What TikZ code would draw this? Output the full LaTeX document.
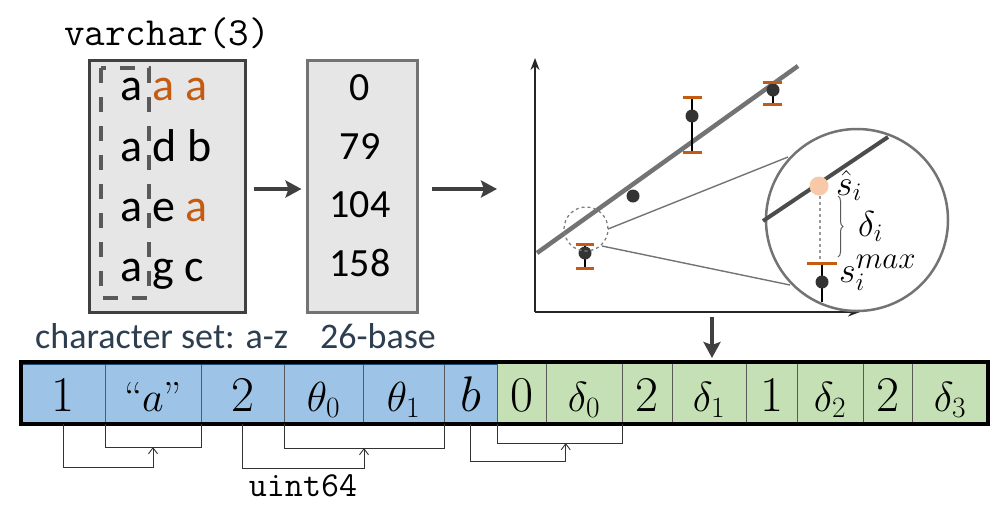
\documentclass[tikz,border=0pt]{standalone}
\usepackage{fontspec}
\newfontfamily\calfont{Carlito}
\DeclareFontShape{OT1}{cmr}{m}{n}{<-8.5>cmr8<8.5-9.5>cmr9<9.5-11>cmr10<11-15>cmr12<15->cmr17}{}
\DeclareFontShape{OML}{cmm}{m}{it}{<-6>cmmi5<6-7>cmmi6<7-8>cmmi7<8-9>cmmi8<9-10>cmmi9<10-12>cmmi10<12->cmmi12}{}
\DeclareFontShape{OMS}{cmsy}{m}{n}{<-6>cmsy5<6-7>cmsy6<7-8>cmsy7<8-9>cmsy8<9-10>cmsy9<10->cmsy10}{}
\usetikzlibrary{arrows.meta,decorations.pathreplacing,calc}
\definecolor{boxfill}{HTML}{E6E6E6}
\definecolor{orng}{HTML}{C55A11}
\definecolor{lorng}{HTML}{F7C9A9}
\definecolor{bluec}{HTML}{9DC3E6}
\definecolor{greenc}{HTML}{C5E0B4}
\definecolor{slate}{HTML}{2C3E50}
\definecolor{dblue}{HTML}{1F4E79}
\begin{document}
\begin{tikzpicture}[x=1pt,y=-1pt,
  cell/.style={draw=black!65,line width=0.8pt,inner sep=0pt,outer sep=0pt,minimum height=62pt,
    text height=36pt,text depth=0pt,anchor=west,font=\fontsize{50}{55}\selectfont},
  smf/.style={font=\fontsize{42}{46}\selectfont},
  bcell/.style={cell,fill=bluec},
  gcell/.style={cell,fill=greenc},
  rowtxt/.style={anchor=base west,inner sep=0pt,font=\calfont\fontsize{46}{50}\selectfont},
  numtxt/.style={anchor=base,inner sep=0pt,font=\calfont\fontsize{40}{44}\selectfont},
  lbl/.style={anchor=base west,inner sep=0pt,text=slate,font=\calfont\fontsize{36}{40}\selectfont},
  bigarrow/.style={draw=black!75,line width=4pt,-{Stealth[length=16pt,width=17pt,inset=3pt]}},
  brk/.style={draw=black!80,line width=0.9pt},
  brka/.style={brk,-{Straight Barb[length=6pt,width=9pt]}},
  dot/.style={circle,fill=black!80,inner sep=0pt,minimum size=13pt},
  ebar/.style={draw=black,line width=1.6pt},
  ecap/.style={draw=orng,line width=3pt},
  mathlbl/.style={anchor=base west,inner sep=0pt,font=\fontsize{36}{40}\selectfont}
]
\useasboundingbox (0,0) rectangle (999,507);

% ---------- top-left boxes ----------
\node[anchor=base,inner sep=0pt,font=\ttfamily\fontsize{40}{44}\selectfont] (vc) at (167,45) {varchar(3)};
\node[draw=black!75,line width=3pt,fill=boxfill,minimum width=156pt,minimum height=252pt,inner sep=0pt] (box1) at (167,186) {};
\draw[black!65,line width=4pt,dash pattern=on 15pt off 14pt] (101,68) rectangle (149,298);
\node[rowtxt] (r1) at (120,100) {a \textcolor{orng}{a a}};
\node[rowtxt] (r2) at (120,161) {a d b};
\node[rowtxt] (r3) at (120,221) {a e \textcolor{orng}{a}};
\node[rowtxt] (r4) at (120,281) {a g c};

\node[draw=black!55,line width=3pt,fill=boxfill,minimum width=110pt,minimum height=252pt,inner sep=0pt] (box2) at (362,186) {};
\node[numtxt] (n1) at (360,100) {0};
\node[numtxt] (n2) at (360,159) {79};
\node[numtxt] (n3) at (360,217) {104};
\node[numtxt] (n4) at (360,276) {158};

\node[lbl] (cs) at (35,348) {character set: a-z};
\node[lbl] (base) at (320,348) {26-base};

\coordinate (plotin) at (497,189);
\draw[bigarrow] ([shift={(7,3)}]box1.east) -- ([shift={(-4,3)}]box2.west);
\draw[bigarrow] ([shift={(13,3)}]box2.east) -- (plotin);

% ---------- plot ----------
\coordinate (org) at (535,312);
\coordinate (ytop) at (535,58);
\coordinate (xend) at (860,312);
\draw[black!85,line width=1.5pt,-{Stealth[length=12pt,width=9pt]}] (org) -- (ytop);
\draw[black!85,line width=1.5pt,-{Stealth[length=12pt,width=9pt]}] (org) -- (xend);

\coordinate (l1) at (537,253);
\coordinate (l2) at (798,66);
\draw[black!55,line width=4.5pt] (l1) -- (l2);

% points with error bars
\draw[ebar] (585,244) -- (585,268);
\draw[ecap] (576,244) -- (594,244);
\draw[ecap] (576,268) -- (594,268);
\node[dot] (p1) at (585,253) {};
\node[dot] (p2) at (633,196) {};
\draw[ebar] (692,97) -- (692,152);
\draw[ecap] (683,97) -- (702,97);
\draw[ecap] (683,152) -- (702,152);
\node[dot] (p3) at (692,116) {};
\draw[ebar] (773,82) -- (773,104);
\node[dot] (p4) at (773,90) {};
\draw[ecap] (763,82) -- (782,82);
\draw[ecap] (763,104) -- (782,104);

% zoom
\node[draw=black!50,dashed,line width=1.3pt,circle,minimum size=44pt,inner sep=0pt] (dc) at (586,229) {};
\node[draw=black!55,line width=2.5pt,circle,fill=white,minimum size=182pt,inner sep=0pt] (zc) at (857,220) {};
\draw[black!55,line width=1.4pt] (608,229) -- (788,157);
\draw[black!55,line width=1.4pt] (602,246) -- (790,285);
\draw[black!70,line width=4pt] (763,221) -- (888,137);
\draw[black!40,dashed,line width=1.2pt] (820,196) -- (820,261);
\node[circle,fill=lorng,inner sep=0pt,minimum size=19pt] (sh) at (819,186) {};
\draw[ebar] (822,263) -- (822,302);
\draw[ecap] (807,263) -- (837,263);
\node[dot] (sm) at (822,282) {};
\draw[black!65,line width=1pt,decorate,decoration={brace,amplitude=5pt}] (838,196) -- (838,257);
\node[mathlbl] (shat) at (836,195) {$\hat{s}_i$};
\node[mathlbl] (dl) at (858,236) {$\delta_i$};
\node[mathlbl] (smax) at (839,282) {$s_i^{\mbox{\fontsize{31}{34}\selectfont$max$}}$};

% ---------- bottom bar ----------
\node[bcell,minimum width=84pt] (c1) at (21,393) {$1$};
\node[bcell,smf,minimum width=96pt] (c2) at (c1.east) {``$a$''};
\node[bcell,minimum width=83pt] (c3) at (c2.east) {$2$};
\node[bcell,smf,minimum width=79pt] (c4) at (c3.east) {$\theta_0$};
\node[bcell,smf,minimum width=81pt] (c5) at (c4.east) {$\theta_1$};
\node[bcell,minimum width=53pt] (c6) at (c5.east) {$b$};
\node[gcell,minimum width=49pt] (g1) at (c6.east) {$0$};
\node[gcell,smf,minimum width=76pt] (g2) at (g1.east) {$\delta_0$};
\node[gcell,minimum width=50pt] (g3) at (g2.east) {$2$};
\node[gcell,smf,minimum width=74pt] (g4) at (g3.east) {$\delta_1$};
\node[gcell,minimum width=51pt] (g5) at (g4.east) {$1$};
\node[gcell,smf,minimum width=66pt] (g6) at (g5.east) {$\delta_2$};
\node[gcell,minimum width=49pt] (g7) at (g6.east) {$2$};
\node[gcell,smf,minimum width=76pt] (g8) at (g7.east) {$\delta_3$};
\draw[dblue,line width=1.5pt] ([yshift=-2pt]c1.north west) -- ([yshift=-2pt]c6.north east);
\draw[black,line width=4pt] (c1.north west) rectangle (g8.south east);

\coordinate (zbot) at (712,317);
\draw[bigarrow] (zbot) -- ([yshift=4pt]zbot |- g4.north);

% brackets
\draw[brk] (c2.south west) -- ++(0,23) -| (c2.south east);
\coordinate (m1) at ($(c2.south west)!0.5!(c2.south east)+(0,23)$);
\draw[brka] (c1.south) |- ($(m1)+(0,20)$) -- (m1);

\draw[brk] (c4.south west) -- ++(0,24) -| (c5.south east);
\coordinate (m2) at ($(c4.south west)!0.5!(c5.south east)+(0,24)$);
\draw[brka] (c3.south) |- ($(m2)+(0,20)$) -- (m2);

\draw[brk] (g1.south west) -- ++(0,19) -| (g2.south east);
\coordinate (m3) at ($(g1.south west)!0.55!(g2.south east)+(0,19)$);
\draw[brka] (c6.south) |- ($(m3)+(0,18)$) -- (m3);

\node[anchor=base,inner sep=0pt,font=\ttfamily\fontsize{35}{40}\selectfont] (u64) at (303,496) {uint64};
\end{tikzpicture}
\end{document}
